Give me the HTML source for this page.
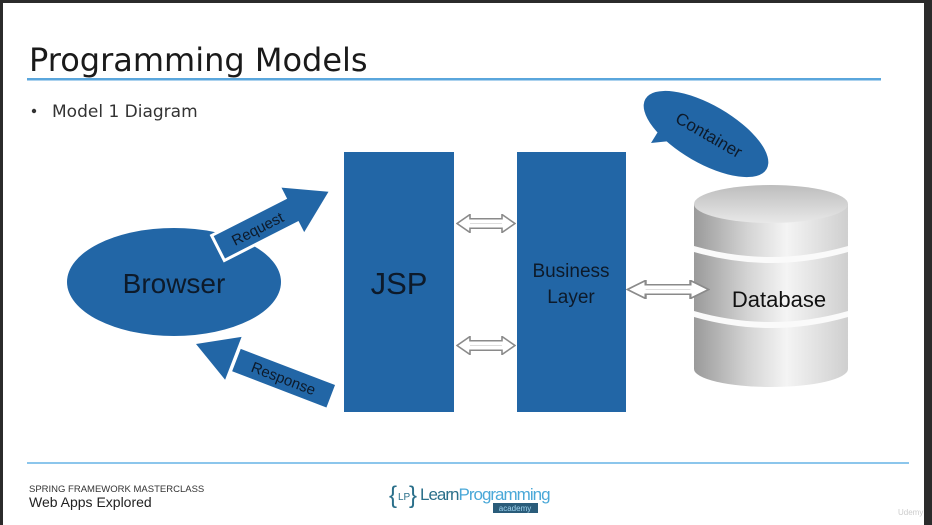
<!DOCTYPE html>
<html><head><meta charset="utf-8"><style>
html,body{margin:0;padding:0;background:#2b2b2b;}
svg{display:block;font-family:"Liberation Sans",sans-serif;}
</style></head><body>
<svg width="932" height="525" viewBox="0 0 932 525" xmlns="http://www.w3.org/2000/svg">
<defs>
<linearGradient id="cyl" x1="0" x2="1" y1="0" y2="0">
<stop offset="0" stop-color="#9a9a9a"/><stop offset="0.35" stop-color="#d4d4d4"/><stop offset="0.6" stop-color="#f4f4f4"/><stop offset="1" stop-color="#cfcfcf"/>
</linearGradient>
<linearGradient id="top" x1="0" x2="0" y1="0" y2="1">
<stop offset="0" stop-color="#bdbdbd"/><stop offset="1" stop-color="#e8e8e8"/>
</linearGradient>
<symbol id="dbl" viewBox="0 0 60 20" preserveAspectRatio="none">
<polygon points="1,10 14,0.5 14,5 46,5 46,0.5 59,10 46,19.5 46,15 14,15 14,19.5" fill="#fff" stroke="#8a8a8a" stroke-width="1.6"/>
<line x1="14" y1="10" x2="46" y2="10" stroke="#ddd" stroke-width="1"/>
</symbol>
</defs>
<rect x="3" y="3" width="921" height="522" fill="#fff"/>
<text x="29" y="71" font-family="'DejaVu Sans',sans-serif" font-size="32" fill="#1a1a1a">Programming Models</text>
<rect x="27" y="78" width="854" height="2.5" fill="#5aa6dc"/>
<circle cx="34" cy="111" r="2.2" fill="#333"/>
<text x="52" y="117" font-family="'DejaVu Sans',sans-serif" font-size="17" fill="#333">Model 1 Diagram</text>

<ellipse cx="174" cy="282" rx="107" ry="54" fill="#2266a6"/>
<text x="174" y="293" text-anchor="middle" font-size="28" fill="#0d1a2a">Browser</text>
<g transform="translate(218,248) rotate(-27)">
<rect x="0" y="-14" width="86" height="28" fill="#2266a6" stroke="#fff" stroke-width="3"/>
<polygon points="84,-25 124,0 84,25" fill="#2266a6"/>
<text x="44" y="6" text-anchor="middle" font-size="15" fill="#0d1a2a">Request</text>
</g>
<g transform="translate(196,344) rotate(21)">
<polygon points="0,0 40,-23 40,23" fill="#2266a6"/>
<rect x="42" y="-13" width="104" height="27" fill="#2266a6" stroke="#fff" stroke-width="3"/>
<text x="94" y="6" text-anchor="middle" font-size="15" fill="#0d1a2a">Response</text>
</g>

<rect x="344" y="152" width="110" height="260" fill="#2266a6"/>
<text x="399" y="294" text-anchor="middle" font-size="31" fill="#0d1a2a">JSP</text>
<rect x="517" y="152" width="109" height="260" fill="#2266a6"/>
<text x="571" y="277" text-anchor="middle" font-size="19" fill="#0d1a2a">Business</text>
<text x="571" y="303" text-anchor="middle" font-size="19" fill="#0d1a2a">Layer</text>

<use href="#dbl" x="456" y="214" width="60" height="19"/>
<use href="#dbl" x="456" y="336" width="60" height="19"/>

<g transform="translate(706,134) rotate(30)">
<ellipse cx="0" cy="0" rx="70" ry="29" fill="#2266a6"/>
</g>
<polygon points="664,122 651,143 680,140" fill="#2266a6"/>
<text transform="translate(706,140) rotate(30)" text-anchor="middle" font-size="17" fill="#0d1a2a">Container</text>

<rect x="694" y="204" width="154" height="165" fill="url(#cyl)"/>
<ellipse cx="771" cy="369" rx="77" ry="18" fill="url(#cyl)"/>
<path d="M694,246 Q771,268 848,246 L848,252 Q771,274 694,252Z" fill="#fafafa"/>
<path d="M694,311 Q771,333 848,311 L848,317 Q771,339 694,317Z" fill="#fafafa"/>
<ellipse cx="771" cy="204" rx="77" ry="19" fill="url(#top)"/>
<text x="779" y="307" text-anchor="middle" font-size="22" fill="#111">Database</text>
<use href="#dbl" x="626" y="280" width="84" height="19"/>

<rect x="27" y="462" width="882" height="2" fill="#8cc6ec"/>
<text x="29" y="492" font-size="9.5" fill="#333">SPRING FRAMEWORK MASTERCLASS</text>
<text x="29" y="507" font-size="14" fill="#222">Web Apps Explored</text>
<text x="389" y="503" font-size="24" fill="#2a6f8a">{</text>
<text x="398" y="500" font-size="10" fill="#2a6f8a">LP</text>
<text x="409" y="503" font-size="24" fill="#2a6f8a">}</text>
<text x="420" y="500" font-size="17" fill="#2a6f8a" letter-spacing="-1">Learn<tspan fill="#4aa8d8">Programming</tspan></text>
<rect x="493" y="503" width="45" height="10" fill="#2a5c7a"/>
<text x="515" y="511" text-anchor="middle" font-size="8" fill="#9fd4f0">academy</text>
<text x="898" y="515" font-size="8" fill="#ccc">Udemy</text>
</svg>
</body></html>
